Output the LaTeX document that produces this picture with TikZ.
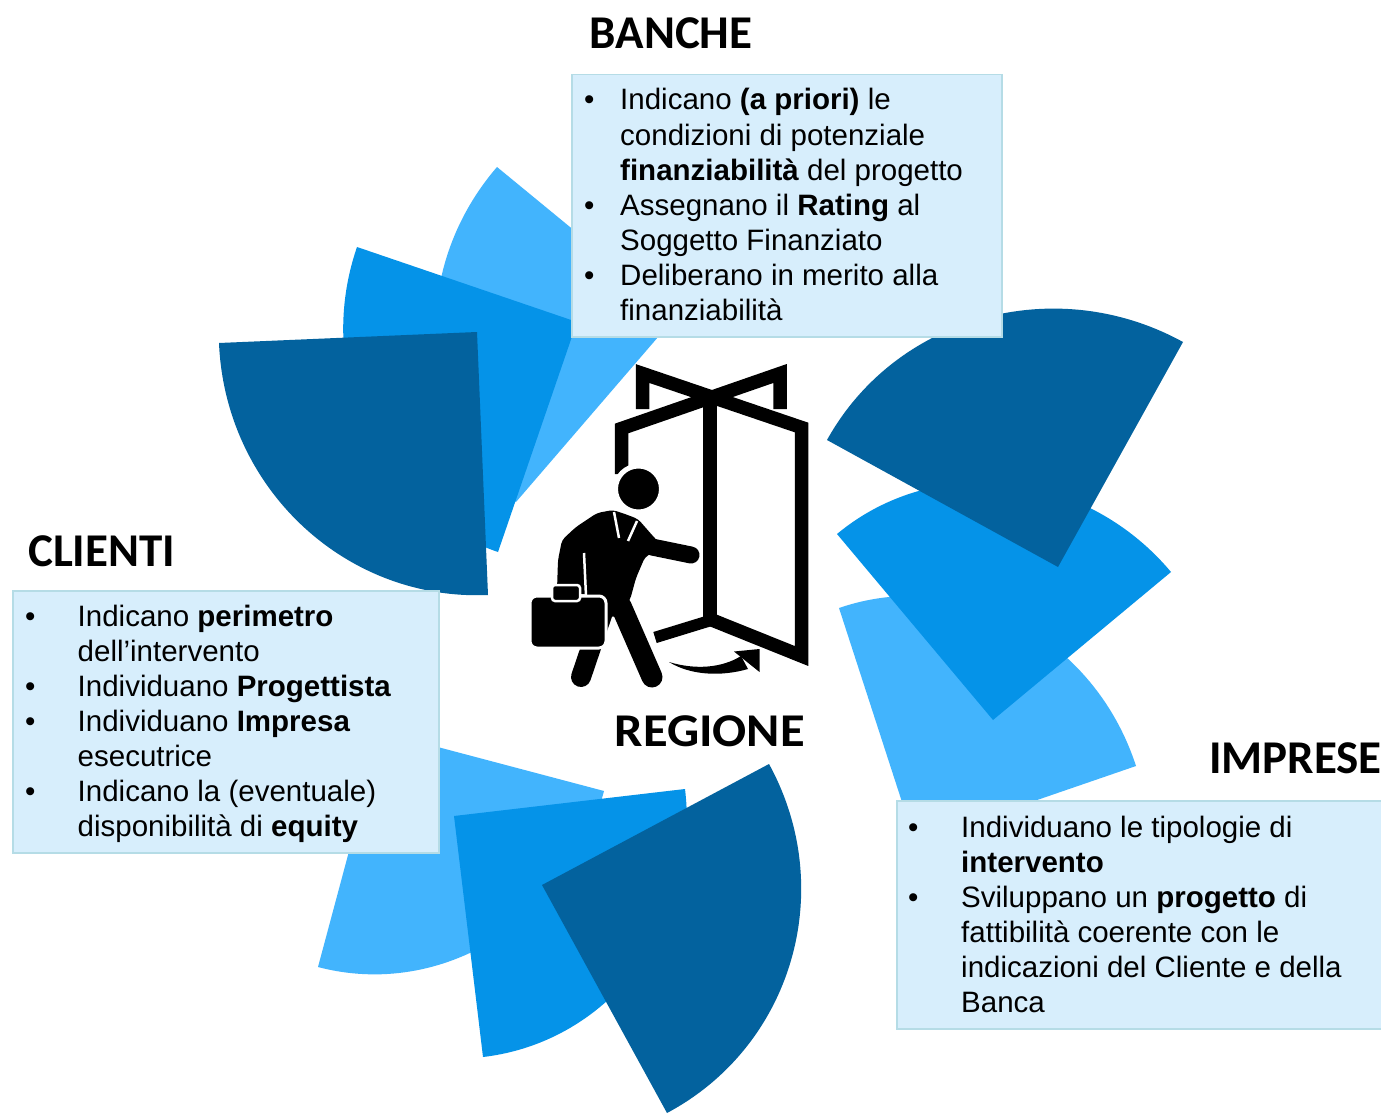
\documentclass[tikz,border=0pt]{standalone}
\usepackage{fontspec}
\usepackage{graphicx}
\setmainfont{Liberation Sans}
\newfontfamily\titlefont{Carlito}
\definecolor{darkb}{HTML}{03629E}
\definecolor{midb}{HTML}{0593E8}
\definecolor{lightb}{HTML}{42B4FD}
\definecolor{boxfill}{HTML}{D7EEFC}
\definecolor{boxline}{HTML}{B5DCE6}
\begin{document}
\begin{tikzpicture}[x=1pt,y=-1pt,
  txt/.style={anchor=base west, inner sep=0pt, font=\fontsize{29.5}{35}\selectfont},
  bul/.style={anchor=base west, inner sep=0pt, font=\fontsize{29.5}{35}\selectfont},
  ttl/.style={anchor=base west, inner sep=0pt, font=\titlefont\bfseries\fontsize{47}{50}\selectfont},
  infobox/.style={fill=boxfill, draw=boxline, line width=1.5pt, inner sep=0pt, anchor=north west},
  doorline/.style={line width=13.5pt, line join=miter, line cap=butt}]
\useasboundingbox[fill=white] (0,0) rectangle (1381,1115);

% ---- top-left fan
\fill[lightb] (677,315) -- (497,167) .. controls (408.1,270.3) and (416.6,420.3) .. (516,502) -- cycle;
\fill[midb] (577,322) -- (357,247) .. controls (313.4,374.0) and (376.5,510.6) .. (498,552) -- cycle;
\fill[darkb] (477,332) -- (219,343) .. controls (225.1,488.3) and (345.5,601.1) .. (488,595) -- cycle;
% ---- right fan
\fill[lightb] (915,842) -- (839,608) .. controls (961.1,566.0) and (1094.0,636.8) .. (1136,766) -- cycle;
\fill[midb] (993,720) -- (837,534) .. controls (935.3,452.3) and (1084.8,469.3) .. (1171,572) -- cycle;
\fill[darkb] (1058,567) -- (827,440) .. controls (896.0,315.7) and (1055.4,271.9) .. (1183,342) -- cycle;
% ---- bottom fan
\fill[lightb] (381,732) -- (604,791) .. controls (569.2,920.8) and (441.2,999.6) .. (318,967) -- cycle;
\fill[midb] (454,816) -- (685,789) .. controls (701.0,922.1) and (610.6,1042.1) .. (483,1057) -- cycle;
\fill[darkb] (542,885) -- (769,764) .. controls (838.0,889.9) and (792.4,1046.2) .. (667,1113) -- cycle;

% ---- boxes
\node[infobox, minimum width=430pt, minimum height=262pt] (bancheBox) at (571,74) {};
\node[infobox, minimum width=426pt, minimum height=262pt] (clientiBox) at (12,590) {};
\node[infobox, minimum width=495pt, minimum height=228pt] (impreseBox) at (896,800) {};

% ---- titles
\node[ttl] (banche) at (589.5,49) {BANCHE};
\node[ttl] (clienti) at (28,566.5) {CLIENTI};
\node[ttl, anchor=base east] (imprese) at (1382,773) {IMPRESE};
\node[ttl] (regione) at (614.5,746.5) {\scalebox{1.075}[1]{REGIONE}};

% ---- BANCHE text
\node[bul] (bb1) at (584,110) {•};
\node[txt] (bt1) at (620,110) {Indicano \textbf{(a priori)} le};
\node[txt] (bt2) at (620,145.1) {condizioni di potenziale};
\node[txt] (bt3) at (620,180.2) {\textbf{finanziabilità} del progetto};
\node[bul] (bb2) at (584,215.3) {•};
\node[txt] (bt4) at (620,215.3) {Assegnano il \textbf{Rating} al};
\node[txt] (bt5) at (620,250.4) {Soggetto Finanziato};
\node[bul] (bb3) at (584,285.5) {•};
\node[txt] (bt6) at (620,285.5) {Deliberano in merito alla};
\node[txt] (bt7) at (620,320.6) {finanziabilità};

% ---- CLIENTI text
\node[bul] (cb1) at (25,626) {•};
\node[txt] (ct1) at (77.5,626) {Indicano \textbf{perimetro}};
\node[txt] (ct2) at (77.5,661) {dell’intervento};
\node[bul] (cb2) at (25,696) {•};
\node[txt] (ct3) at (77.5,696) {Individuano \textbf{Progettista}};
\node[bul] (cb3) at (25,731) {•};
\node[txt] (ct4) at (77.5,731) {Individuano \textbf{Impresa}};
\node[txt] (ct5) at (77.5,766) {esecutrice};
\node[bul] (cb4) at (25,801) {•};
\node[txt] (ct6) at (77.5,801) {Indicano la (eventuale)};
\node[txt] (ct7) at (77.5,836) {disponibilità di \textbf{equity}};

% ---- IMPRESE text
\node[bul] (ib1) at (908,837) {•};
\node[txt] (it1) at (961,837) {Individuano le tipologie di};
\node[txt] (it2) at (961,872) {\textbf{intervento}};
\node[bul] (ib2) at (908,907) {•};
\node[txt] (it3) at (961,907) {Sviluppano un \textbf{progetto} di};
\node[txt] (it4) at (961,942) {fattibilità coerente con le};
\node[txt] (it5) at (961,977) {indicazioni del Cliente e della};
\node[txt] (it6) at (961,1012) {Banca};

% ---- icon: revolving door
\draw[doorline] (642.5,409) -- (642.5,373.5) -- (801.5,427.5) -- (801.5,656) -- (712,620);
\draw[doorline] (780,409) -- (780,373.5) -- (621.5,428.5) -- (621.5,474);
\draw[line width=14pt] (710,395) -- (710,624);
\draw[line width=11.5pt] (655,637.5) -- (712,620);
% ---- icon: man
\draw[line width=20pt, line cap=round] (603,612) -- (581,677);
\draw[line width=21pt, line cap=round] (621,606) -- (652,677);
\fill[rounded corners=4pt] (557,590) -- (558,560) -- (562,540) -- (576,527) -- (597,513) -- (613,510)
  -- (625,514) -- (638,519) -- (652,535) -- (663,547) -- (645,557) -- (636,578) -- (630,600)
  -- (614,618) -- (598,612) -- (588,594) -- (578,594) -- cycle;
\draw[line width=17pt, line cap=round] (652,547) -- (691,555);
\draw[white, line width=2.5pt] (584,553) -- (586,596);
\draw[white, line width=2.5pt] (614,512) -- (619,538);
\draw[white, line width=2.5pt] (637,521) -- (628,541);
\filldraw[fill=black, draw=white, line width=5pt] (638.5,489) circle (23);
\filldraw[fill=black, draw=white, line width=3pt, rounded corners=7pt] (530,596) rectangle (606,648);
\filldraw[fill=black, draw=white, line width=2.5pt, rounded corners=3pt] (552,585) rectangle (580,601);
% ---- icon: curved arrow
\fill (669,662) .. controls (690,675) and (720,677) .. (748,669) -- (741,656)
  .. controls (722,668) and (695,670) .. cycle;
\fill (734,651.5) -- (759.5,649) -- (759.5,672) -- cycle;
\end{tikzpicture}
\end{document}
